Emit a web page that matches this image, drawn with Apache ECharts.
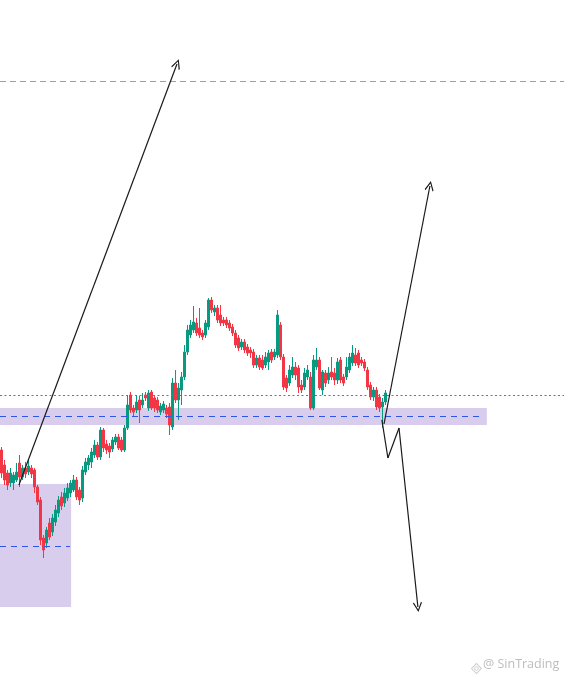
<!DOCTYPE html>
<html>
<head>
<meta charset="utf-8">
<script src="https://cdn.jsdelivr.net/npm/echarts@6/dist/echarts.min.js"></script>
<style>html,body{margin:0;padding:0;background:#fff}#c{width:564px;height:682px}</style>
</head>
<body>
<div id="c"></div>
<script>
// bar slots (category axis), candles occupy the first 129
const categories = Array.from({length: 188}, (_, i) => 'b' + i);
// [open, close, low, high]
const ohlc = [
[232,209,204,235],[217,202,197,222],[209,197,192,212],[199,209,195,214],[199,207,192,210],
[202,210,200,219],[219,205,195,227],[205,214,202,217],[214,208,204,220],[210,216,207,222],
[214,208,204,217],[212,195,189,214],[195,180,177,197],[182,142,137,185],[144,132,124,147],
[139,152,134,155],[159,145,142,164],[150,164,146,168],[160,172,156,177],[169,182,165,186],
[185,176,172,190],[179,189,175,194],[184,194,181,199],[189,199,185,202],[192,202,190,207],
[202,185,182,205],[192,182,177,195],[184,212,180,216],[210,220,207,224],[217,224,212,227],
[220,230,214,234],[227,237,224,242],[237,225,222,240],[225,252,222,255],[252,234,230,254],
[238,232,228,242],[236,230,224,239],[233,242,230,245],[240,245,237,248],[245,234,232,248],
[242,232,230,245],[232,254,230,257],[254,277,252,287],[287,272,269,290],[274,270,266,277],
[272,280,269,287],[282,272,259,286],[277,282,274,289],[287,284,281,290],[274,289,271,292],
[290,274,272,292],[284,274,270,287],[282,272,269,285],[270,276,267,279],[272,278,269,281],
[274,268,264,277],[275,257,247,279],[255,299,252,304],[299,282,279,312],[282,294,262,299],
[292,305,277,310],[305,330,302,337],[330,352,327,357],[347,357,344,362],[352,360,349,376],
[359,349,346,364],[354,347,344,374],[349,345,342,352],[347,359,344,362],[355,382,352,384],
[382,372,369,385],[370,374,366,377],[374,362,359,377],[367,359,356,377],[362,359,356,365],
[362,357,354,365],[359,354,351,362],[355,349,346,358],[349,337,334,352],[344,334,331,347],
[335,340,332,343],[340,332,329,343],[335,329,326,338],[332,329,324,335],[330,317,314,333],
[317,324,314,327],[324,315,312,327],[322,314,312,327],[317,325,314,330],[320,329,312,332],
[330,322,319,333],[325,330,322,333],[327,367,324,372],[357,325,322,360],[325,295,292,328],
[304,294,290,307],[299,312,296,317],[307,315,304,325],[315,307,302,320],[314,295,289,317],
[297,292,289,302],[295,309,292,314],[305,312,302,317],[305,274,272,310],[274,322,272,327],
[315,322,312,334],[322,294,292,325],[292,310,287,312],[309,299,295,312],[302,309,298,315],
[310,305,302,325],[309,302,297,314],[302,320,298,324],[322,302,299,325],[305,299,296,308],
[305,315,302,325],[312,325,309,329],[319,329,316,337],[327,319,316,334],[329,317,314,332],
[322,319,316,325],[320,314,311,323],[312,295,292,315],[297,285,282,300],[285,292,281,295],
[292,275,272,295],[285,274,270,288],[275,280,254,284],[280,289,277,292]
];
// levels (price)
const targetLevel = 600.5;    // grey dashed
const dottedLevel = 286.5;    // green dotted
const zoneMid = 265.5;        // blue dashed inside upper zone
const lowZoneMid = 135.5;     // blue dashed inside lower zone
// zones: [xStartIdx, priceTop, xEndIdx, priceBottom]
const upperZone = [-0.5, 274, 161.8, 257];
const lowerZone = [-0.5, 198, 23.2, 75];
// projection paths [barIndex, price]
const arrowA = [[5.8,197],[58.5,618]];
const arrowUp = [[127.5,258],[142.8,496]];
const zigDown = [[126.8,262],[128.8,224],[132.5,254],[138.8,75]];

const chevron = 'path://M5,0 L10,9 L9,10 L5,2.4 L1,10 L0,9 Z';
const black = '#1a1a1a';
const upColor = '#089981';
const downColor = '#f23645';

function seg(a, b, arrow) {
  return [
    {coord: a, symbol: 'none', lineStyle: {color: black, width: 1.2, type: 'solid'}},
    {coord: b, symbol: arrow ? chevron : 'none', symbolSize: arrow ? [9, 10] : 0,
     lineStyle: {color: black, width: 1.2, type: 'solid'}}
  ];
}
const arrowSegs = [];
arrowSegs.push(seg(arrowA[0], arrowA[1], true));
arrowSegs.push(seg(arrowUp[0], arrowUp[1], true));
for (let k = 0; k < zigDown.length - 1; k++) {
  arrowSegs.push(seg(zigDown[k], zigDown[k+1], k === zigDown.length - 2));
}

const chart = echarts.init(document.getElementById('c'), null, {renderer: 'canvas'});
chart.setOption({
  animation: false,
  backgroundColor: '#ffffff',
  grid: {left: 0, right: 0, top: 0, bottom: 0, containLabel: false},
  xAxis: [
    {type: 'category', data: categories, boundaryGap: true, show: false},
    {type: 'value', min: -0.5, max: 187.5, show: false}
  ],
  yAxis: [{type: 'value', min: 0, max: 682, show: false, splitLine: {show: false}}],
  series: [
    {
      type: 'line', xAxisIndex: 1, yAxisIndex: 0, data: [[-10, -10]], symbol: 'none',
      lineStyle: {opacity: 0}, z: 1, silent: true,
      markArea: {
        silent: true,
        itemStyle: {color: 'rgba(149,117,205,0.36)'},
        data: [
          [{coord: [upperZone[0], upperZone[1]]}, {coord: [upperZone[2], upperZone[3]]}],
          [{coord: [lowerZone[0], lowerZone[1]]}, {coord: [lowerZone[2], lowerZone[3]]}]
        ]
      },
      markLine: {
        silent: true, symbol: 'none', label: {show: false},
        data: [
          [{coord: [-0.5, targetLevel], lineStyle: {color: '#9e9e9e', width: 1, type: [6, 4]}}, {coord: [187.5, targetLevel]}],
          [{coord: [-0.5, dottedLevel], lineStyle: {color: '#14a08a', width: 1, type: [2, 2.5]}}, {coord: [187.5, dottedLevel]}],
          [{coord: [-0.5, zoneMid], lineStyle: {color: '#2f55e6', width: 1, type: [6, 5]}}, {coord: [160.8, zoneMid]}],
          [{coord: [-0.5, lowZoneMid], lineStyle: {color: '#2f55e6', width: 1, type: [6, 5]}}, {coord: [22.8, lowZoneMid]}]
        ]
      }
    },
    {
      type: 'candlestick', xAxisIndex: 0, yAxisIndex: 0, data: ohlc, z: 2,
      barWidth: 2.5,
      itemStyle: {color: upColor, color0: downColor, borderColor: upColor, borderColor0: downColor, borderWidth: 1}
    },
    {
      type: 'line', xAxisIndex: 1, yAxisIndex: 0, data: [[-10, -10]], symbol: 'none',
      lineStyle: {opacity: 0}, z: 3, silent: true,
      markLine: {silent: true, label: {show: false}, symbol: 'none', data: arrowSegs}
    }
  ],
  graphic: [
    {type: 'group', left: 468, top: 660, children: [
      {type: 'rect', shape: {x: 1.5, y: 1.5, width: 7, height: 7}, rotation: Math.PI/4, originX: 5, originY: 5,
       style: {fill: 'none', stroke: '#cfcfcf', lineWidth: 1}},
      {type: 'circle', shape: {cx: 5, cy: 5, r: 1.8}, style: {fill: 'none', stroke: '#cfcfcf', lineWidth: 1}}
    ]},
    {type: 'text', left: 483, top: 658, style: {text: '@ SinTrading', fill: '#bdbdbd', font: '12.5px "Open Sans", "DejaVu Sans", sans-serif'}}
  ]
});
</script>
</body>
</html>
